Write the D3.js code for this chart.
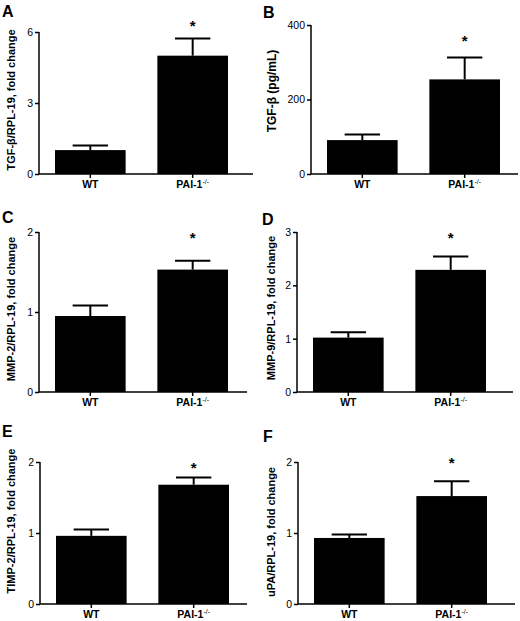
<!DOCTYPE html>
<html>
<head>
<meta charset="utf-8">
<script src="https://cdn.jsdelivr.net/npm/d3@7"></script>
<style>
  body { margin: 0; background: #fff; }
  svg { display: block; font-family: "Liberation Sans", Arial, sans-serif; }
</style>
</head>
<body>
<svg id="chart" width="520" height="621"></svg>
<script>
// data
const panelLetters = ["A", "B", "C", "D", "E", "F"];
const groups = ["WT", "PAI-1"];
const yTitles = [
  "TGF-β/RPL-19, fold change",
  "TGF-β (pg/mL)",
  "MMP-2/RPL-19, fold change",
  "MMP-9/RPL-19, fold change",
  "TIMP-2/RPL-19, fold change",
  "uPA/RPL-19, fold change"
];
const yMax = [6, 400, 2, 3, 2, 2];
const yTicks = [[0, 3, 6], [0, 200, 400], [0, 1, 2], [0, 1, 2, 3], [0, 1, 2], [0, 1, 2]];
const wtMeans = [1.01, 91, 0.95, 1.02, 0.96, 0.93];
const wtErr = [0.19, 15, 0.13, 0.10, 0.09, 0.05];
const paiMeans = [5.0, 254, 1.53, 2.29, 1.68, 1.52];
const paiErr = [0.73, 59, 0.11, 0.25, 0.10, 0.21];
const significant = [true, true, true, true, true, true];

// panel layout (pixels)
const layout = [
  { ax: 39, top: 32, bottom: 174, end: 253, tx: 11, ty: 100, fs: 11, lx: 2, ly: 17, sy: 24 },
  { ax: 311, top: 25, bottom: 174, end: 518, tx: 272, ty: 91, fs: 12, lx: 263, ly: 18, sy: 39 },
  { ax: 39, top: 232, bottom: 392, end: 247, tx: 11, ty: 309, fs: 11, lx: 2, ly: 223, sy: 236 },
  { ax: 297, top: 232, bottom: 392, end: 513, tx: 271, ty: 308, fs: 11, lx: 262, ly: 225, sy: 236 },
  { ax: 40, top: 462, bottom: 604, end: 247, tx: 11, ty: 521, fs: 11, lx: 2, ly: 437, sy: 466 },
  { ax: 298, top: 462, bottom: 604, end: 515, tx: 271, ty: 532, fs: 11, lx: 263, ly: 442, sy: 461 }
];

const svg = d3.select("#chart");

layout.forEach((p, i) => {
  const g = svg.append("g");
  const means = [wtMeans[i], paiMeans[i]];
  const errs = [wtErr[i], paiErr[i]];

  const y = d3.scaleLinear().domain([0, yMax[i]]).range([p.bottom, p.top]);
  const x = d3.scaleBand().domain(groups)
    .range([p.ax + 16, p.ax + 189])
    .paddingInner(0.31).paddingOuter(0);

  // bars
  g.selectAll("rect.bar")
    .data(groups)
    .enter()
    .append("rect")
    .attr("class", "bar")
    .attr("x", d => x(d))
    .attr("y", (d, j) => y(means[j]))
    .attr("width", x.bandwidth())
    .attr("height", (d, j) => p.bottom - y(means[j]))
    .attr("fill", "#000");

  // error bars (upper only)
  const cap = x.bandwidth() * 0.25;
  groups.forEach((d, j) => {
    const cx = x(d) + x.bandwidth() / 2;
    g.append("line")
      .attr("x1", cx).attr("x2", cx)
      .attr("y1", y(means[j])).attr("y2", y(means[j] + errs[j]))
      .attr("stroke", "#000").attr("stroke-width", 2);
    g.append("line")
      .attr("x1", cx - cap).attr("x2", cx + cap)
      .attr("y1", y(means[j] + errs[j])).attr("y2", y(means[j] + errs[j]))
      .attr("stroke", "#000").attr("stroke-width", 2);
  });

  // y axis
  const yAxis = g.append("g")
    .attr("transform", `translate(${p.ax},0)`)
    .call(d3.axisLeft(y).tickValues(yTicks[i]).tickSize(4).tickPadding(2).tickFormat(d3.format("d")));
  yAxis.select(".domain").attr("stroke-width", 1.5).attr("d", `M0,${p.top}V${p.bottom}`);
  yAxis.selectAll(".tick line").attr("stroke-width", 1.5);
  yAxis.selectAll(".tick text").attr("font-size", 10.5).attr("fill", "#000");

  // x axis
  const xAxis = g.append("g")
    .attr("transform", `translate(0,${p.bottom})`)
    .call(d3.axisBottom(x).tickSize(4).tickFormat(""));
  xAxis.select(".domain").attr("stroke-width", 1.5).attr("d", `M${p.ax},0H${p.end}`);
  xAxis.selectAll(".tick line").attr("stroke-width", 1.5);

  // x labels
  groups.forEach((d, j) => {
    const t = g.append("text")
      .attr("x", x(d) + x.bandwidth() / 2)
      .attr("y", p.bottom + 14)
      .attr("text-anchor", "middle")
      .attr("font-size", 10.5)
      .attr("font-weight", "bold")
      .text(d);
    if (j === 1) {
      t.append("tspan").attr("dy", -4).attr("font-size", 7).attr("font-weight", "normal").text("-/-");
    }
  });

  // y title
  g.append("text")
    .attr("transform", `translate(${p.tx + 4},${p.ty}) rotate(-90)`)
    .attr("text-anchor", "middle")
    .attr("font-size", p.fs)
    .attr("font-weight", "bold")
    .text(yTitles[i]);

  // panel letter
  g.append("text")
    .attr("x", p.lx).attr("y", p.ly)
    .attr("font-size", 16)
    .attr("font-weight", "bold")
    .text(panelLetters[i]);

  // significance star
  if (significant[i]) {
    g.append("text")
      .attr("x", x("PAI-1") + x.bandwidth() / 2)
      .attr("y", p.sy + 7)
      .attr("text-anchor", "middle")
      .attr("font-size", 15)
      .attr("font-weight", "bold")
      .text("*");
  }
});
</script>
</body>
</html>
